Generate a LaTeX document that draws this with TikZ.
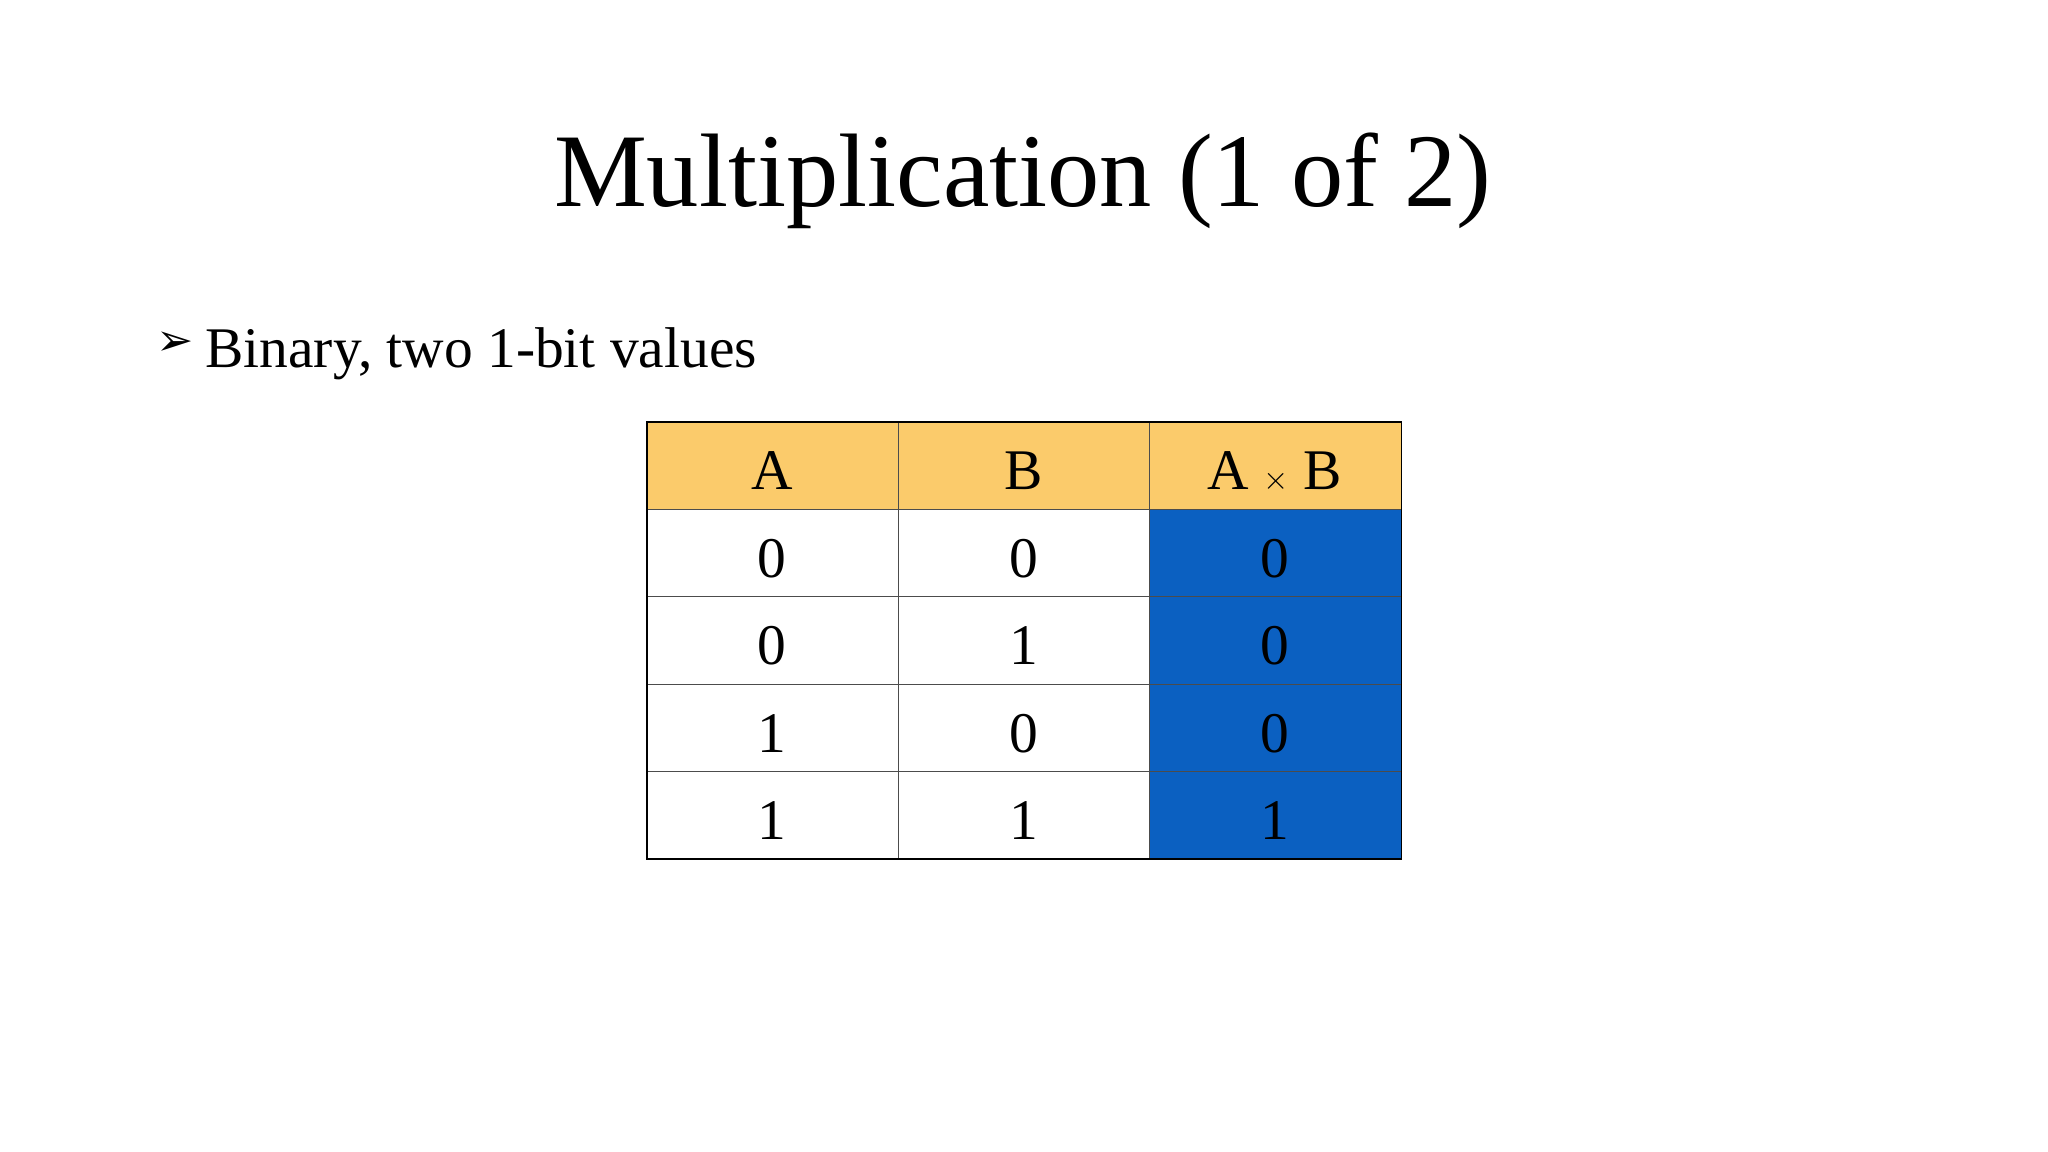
\documentclass[tikz,border=0pt]{standalone}
\usepackage{fontspec}
\setmainfont{Liberation Serif}
\newfontfamily\symfont{DejaVu Sans}
\definecolor{hdr}{HTML}{FBCB6B}
\definecolor{blu}{HTML}{0B60C1}
\begin{document}
\begin{tikzpicture}[x=1pt,y=-1pt,
  cell/.style={font=\fontsize{44}{50}\selectfont, anchor=base}]
\useasboundingbox[fill=white] (0,0) rectangle (1568,882);
\node[font=\fontsize{80}{90}\selectfont, anchor=base] (title) at (783,158) {Multiplication (1 of 2)};
\node[font=\symfont\fontsize{34}{40}\selectfont, anchor=base west, inner sep=0] (bul) at (120,272) {➢};
\node[font=\fontsize{44}{50}\selectfont, anchor=base west, inner sep=0] (txt) at (157,281) {Binary, two 1-bit values};
\fill[hdr] (495,323) rectangle (1073,390);
\fill[blu] (880,390) rectangle (1073,658);
\draw[line width=0.8pt, black!70] (688,323) -- (688,658) (880,323) -- (880,658);
\foreach \y in {390,457,524,591} \draw[line width=0.8pt, black!70] (495,\y) -- (1073,\y);
\draw[line width=1.5pt] (495,323) rectangle (1073,658);
\node[cell] (h1) at (591,375) {A};
\node[cell] (h2) at (784,375) {B};
\node[cell] (h3) at (976,375) {A $\times$ B};
\foreach \a/\b/\c [count=\i] in {0/0/0,0/1/0,1/0/0,1/1/1}{
  \pgfmathsetmacro\yy{375+67*\i}
  \node[cell] (a\i) at (591,\yy) {\a};
  \node[cell] (b\i) at (784,\yy) {\b};
  \node[cell] (c\i) at (976,\yy) {\c};
}
\end{tikzpicture}
\end{document}
